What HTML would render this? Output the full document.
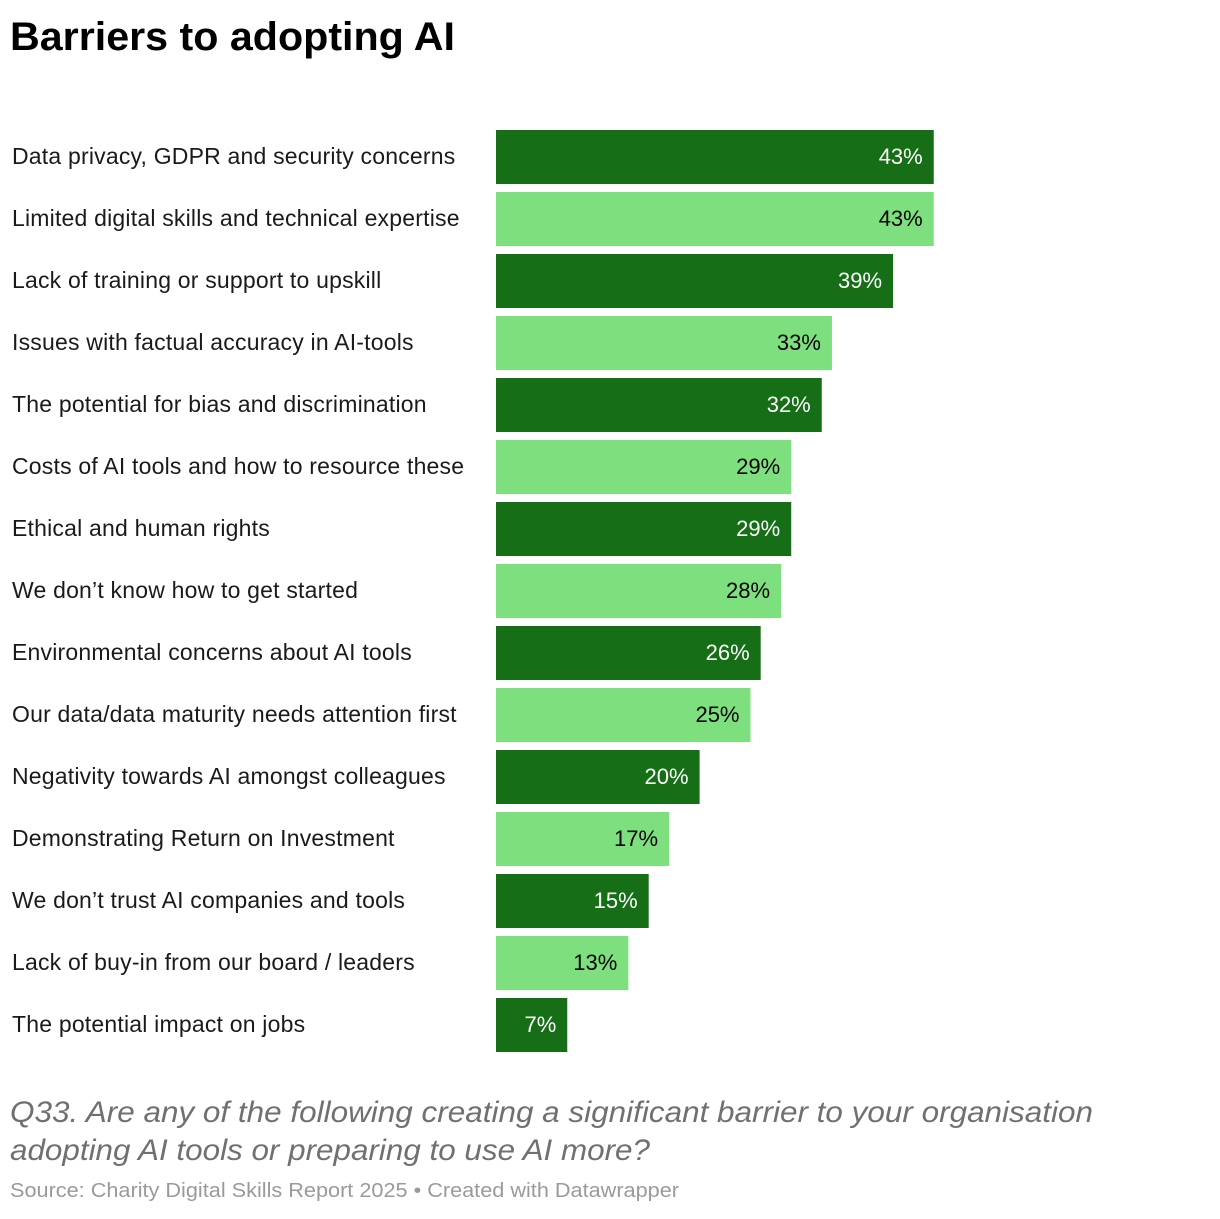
<!DOCTYPE html>
<html><head><meta charset="utf-8"><style>
body{margin:0;background:#fff;width:1220px;height:1214px;overflow:hidden;font-family:"Liberation Sans",sans-serif}
</style></head><body>
<svg id="chart" width="1220" height="1214" xmlns="http://www.w3.org/2000/svg" font-family="Liberation Sans, sans-serif">
<text x="10" y="50" font-size="40" font-weight="bold" fill="#000" textLength="445" lengthAdjust="spacingAndGlyphs">Barriers to adopting AI</text>
<g id="bars"></g>
<text x="10" y="1122" font-size="30" font-style="italic" fill="#707070" textLength="1083" lengthAdjust="spacingAndGlyphs">Q33. Are any of the following creating a significant barrier to your organisation</text>
<text x="10" y="1160" font-size="30" font-style="italic" fill="#707070" textLength="640" lengthAdjust="spacingAndGlyphs">adopting AI tools or preparing to use AI more?</text>
<text x="10" y="1197" font-size="20" fill="#9a9a9a" textLength="669" lengthAdjust="spacingAndGlyphs">Source: Charity Digital Skills Report 2025 • Created with Datawrapper</text>
</svg>
<script>
const categories=["Data privacy, GDPR and security concerns","Limited digital skills and technical expertise","Lack of training or support to upskill","Issues with factual accuracy in AI-tools","The potential for bias and discrimination","Costs of AI tools and how to resource these","Ethical and human rights","We don’t know how to get started","Environmental concerns about AI tools","Our data/data maturity needs attention first","Negativity towards AI amongst colleagues","Demonstrating Return on Investment","We don’t trust AI companies and tools","Lack of buy-in from our board / leaders","The potential impact on jobs"];
const values=[43,43,39,33,32,29,29,28,26,25,20,17,15,13,7];
const valueLabels=["43%","43%","39%","33%","32%","29%","29%","28%","26%","25%","20%","17%","15%","13%","7%"];
const NS="http://www.w3.org/2000/svg";
const x0=496, pxPer=10.18, y0=130, pitch=62, bh=54;
const xScale=v=>v*pxPer;
const yScale=i=>y0+i*pitch;
const g=document.getElementById('bars');
categories.forEach((c,i)=>{
  const dark=i%2===0;
  const y=yScale(i), w=xScale(values[i]);
  const lab=document.createElementNS(NS,'text');
  
  
  lab.setAttribute('x',12);lab.setAttribute('y',y+bh/2+7);
  lab.setAttribute('font-size','23');lab.setAttribute('letter-spacing','0.2');lab.setAttribute('fill','#1a1a1a');
  lab.textContent=c;g.appendChild(lab);
  const r=document.createElementNS(NS,'rect');
  
  
  r.setAttribute('x',x0);r.setAttribute('y',y);r.setAttribute('width',w);r.setAttribute('height',bh);
  r.setAttribute('fill',dark?'#166e16':'#7edf7e');g.appendChild(r);
  const t=document.createElementNS(NS,'text');
  
  
  t.setAttribute('x',x0+w-11);t.setAttribute('y',y+bh/2+7);t.setAttribute('text-anchor','end');
  t.setAttribute('font-size','22');t.setAttribute('fill',dark?'#fff':'#000');
  t.textContent=valueLabels[i];g.appendChild(t);
});
</script>
</body></html>
